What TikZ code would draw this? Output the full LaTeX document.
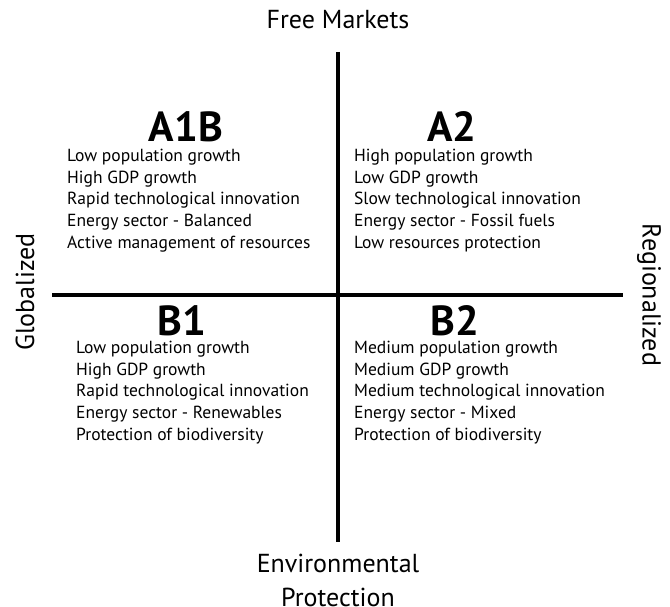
\documentclass[tikz,border=0pt]{standalone}
\usepackage{fontspec}
\setmainfont{PT Sans}
\usetikzlibrary{positioning}
\begin{document}
\begin{tikzpicture}[x=1pt,y=-1pt,
    axis/.style={line width=3.2pt},
    pole/.style={font=\fontsize{26}{34}\selectfont},
    scenario/.style={font=\fontsize{42}{42}\selectfont\bfseries,inner sep=0pt},
    traits/.style={align=left,anchor=north west,inner sep=0pt,
      font=\fontsize{17.5}{21.7}\selectfont}]
    \useasboundingbox (0,0) rectangle (670,607);
%   axes
    \coordinate (west)  at (52,295);
    \coordinate (east)  at (623,295);
    \coordinate (north) at (338,52);
    \coordinate (south) at (338,542);
    \draw[axis] (west) -- (east);
    \draw[axis] (north) -- (south);

    \node[pole](free)     at (338,20)  {Free Markets};
    \node[pole,align=center](environ) at (338,580) {Environmental\\Protection};
    \node[pole,rotate=90](global)  at (25,292)  {Globalized};
    \node[pole,rotate=-90](region) at (649,295) {Regionalized};

    \node[scenario](a1b) at (186,127) {A1B};
    \node[scenario](a2)  at (452,127) {A2};
    \node[scenario](b1)  at (182,321) {B1};
    \node[scenario](b2)  at (455,321) {B2};

    \node[traits](a1b-list) at (67,149)  {Low population growth\\High GDP growth\\Rapid technological innovation\\Energy sector - Balanced\\Active management of resources};
    \node[traits](a2-list)  at (354,149) {High population growth\\Low GDP growth\\Slow technological innovation\\Energy sector - Fossil fuels\\Low resources protection};
    \node[traits](b1-list)  at (76,341)  {Low population growth\\High GDP growth\\Rapid technological innovation\\Energy sector - Renewables\\Protection of biodiversity};
    \node[traits](b2-list)  at (354,341) {Medium population growth\\Medium GDP growth\\Medium technological innovation\\Energy sector - Mixed\\Protection of biodiversity};
\end{tikzpicture}
\end{document}
